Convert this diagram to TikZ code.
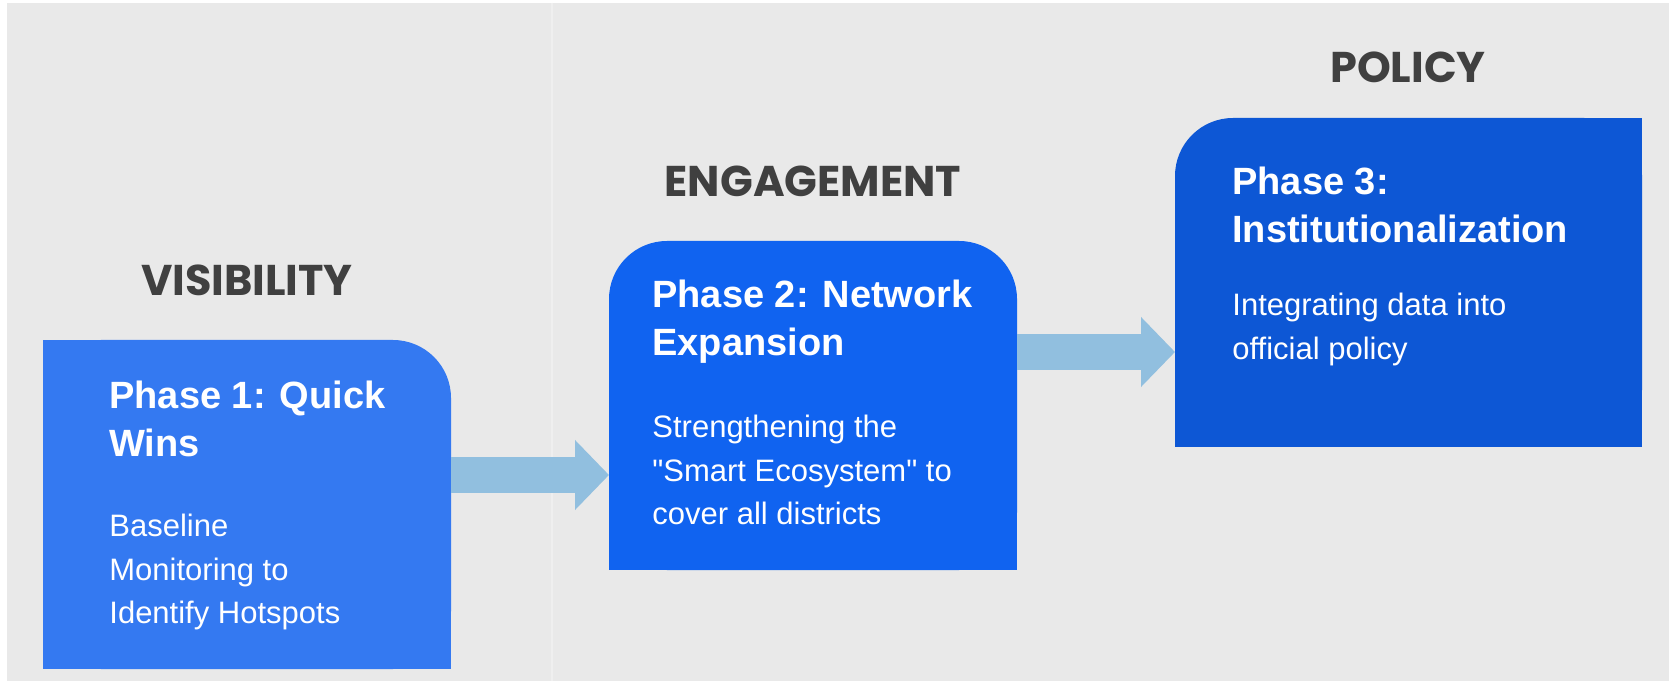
\documentclass[tikz,border=0pt]{standalone}
\usepackage{fontspec}
\setmainfont{Liberation Sans}[Ligatures=TeXOff]
\newfontfamily\headfont{Poppins}
\usetikzlibrary{arrows.meta}
\definecolor{bggray}{HTML}{E9E9E9}
\definecolor{seam}{HTML}{EFEFEF}
\definecolor{headgray}{HTML}{404040}
\definecolor{phaseone}{HTML}{3479F1}
\definecolor{phasetwo}{HTML}{1063F0}
\definecolor{phasethree}{HTML}{0D57D5}
\definecolor{flowblue}{HTML}{91BFDF}
\begin{document}
\begin{tikzpicture}[x=0.5pt, y=-0.5pt,
  phase/.style={minimum height=164.5pt, inner sep=0pt, outer sep=0pt, anchor=north west},
  heading/.style={anchor=base, text=headgray, font=\headfont\bfseries\fontsize{21.5pt}{26pt}\selectfont},
  title/.style={anchor=north west, inner sep=0pt, align=left, text=white, font=\bfseries\fontsize{19pt}{24pt}\selectfont},
  body/.style={anchor=north west, inner sep=0pt, align=left, text=white, font=\fontsize{15.5pt}{21.75pt}\selectfont},
  flow/.style={draw=flowblue, line width=18pt, -{Triangle[length=17pt, width=34pt]}}]
\useasboundingbox (0,0) rectangle (1669,683);
\fill[white] (0,0) rectangle (1669,683);
\fill[bggray] (7,3) rectangle (1669,681);
\draw[seam, line width=1pt] (552,3) -- (552,681);

% phase boxes
\node[phase, minimum width=204pt, fill=phaseone, rounded corners=29pt] (p1) at (43,340) {};
\fill[phaseone] (p1.north west) rectangle (p1.south);
\fill[phaseone] (p1.west) rectangle (p1.south east);
\node[phase, minimum width=204pt, fill=phasetwo, rounded corners=29pt] (p2) at (609,241) {};
\fill[phasetwo] (p2.west) rectangle (p2.south east);
\node[phase, minimum width=233.5pt, fill=phasethree, rounded corners=29pt] (p3) at (1175,118) {};
\fill[phasethree] (p3.north) rectangle (p3.south east);
\fill[phasethree] (p3.west) rectangle (p3.south east);

% arrows
\draw[flow] (p1.east |- 0,475) -- (p2.west |- 0,475);
\draw[flow] (p2.east |- 0,352) -- (p3.west |- 0,352);

% headings
\node[heading] (h1) at (247,296) {VISIBILITY};
\node[heading] (h2) at (813,197) {ENGAGEMENT};
\node[heading] (h3) at (1408,83) {POLICY};

% texts
\node[title] (t1) at (109,381) {Phase 1: Quick\\Wins};
\node[body] (d1) at (109,514) {Baseline\\Monitoring to\\Identify Hotspots};
\node[title] (t2) at (652,280) {Phase 2: Network\\Expansion};
\node[body] (d2) at (652,415) {Strengthening the\\"Smart Ecosystem" to\\cover all districts};
\node[title] (t3) at (1232,167) {Phase 3:\\Institutionalization};
\node[body] (d3) at (1232,293) {Integrating data into\\official policy};
\end{tikzpicture}
\end{document}
